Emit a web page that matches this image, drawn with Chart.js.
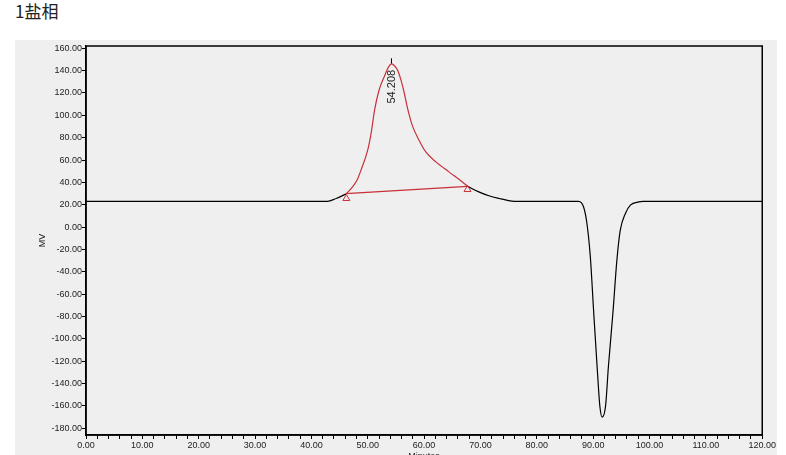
<html>
  <head>
    <title>1盐相</title>
    <meta charset="utf-8">
    <script src="https://cdn.jsdelivr.net/npm/chart.js"></script>
    <style>
      body { margin:0; background:#fff; }
      #title { position:absolute; left:15px; top:-2px; font-family:"Noto Sans CJK SC"; font-size:17px; color:#222; }
      #panel { position:absolute; left:15px; top:40px; width:762px; height:415px; background:#efefef; overflow:hidden; }
    </style>
  </head>
  <body>
    <div id="title">1盐相</div>
    <div id="panel">
      <canvas id="myChart" width="762" height="440"></canvas>
    </div>

  <script>

    // chromatogram trace (minutes, mV) - null breaks where the integrated peak covers it
    let blackX = [0, 42.8, 44.4, 46.1, null, 67.7, 69.7, 71.5, 73.3, 75.6, 76.5, 87.4, 88.3, 88.9, 89.5, 90.1, 90.7, 91.2, 91.6, 92.2, 92.7, 93.5, 94.2, 94.8, 95.7, 96.6, 98.1, 98.8, 120];
    let blackY = [23, 23, 25.6, 29.5, null, 36.5, 31.5, 28, 25.6, 23.2, 23, 23, 18, 3, -27, -77, -125, -161, -170, -160, -125, -77, -30, -3, 12, 19.6, 22.5, 23, 23];

    // integrated peak
    let peakX = [46.1, 47.3, 48.2, 48.8, 50.0, 50.6, 51.2, 52.0, 52.9, 53.7, 54.2, 54.6, 55.3, 55.9, 56.5, 57.0, 57.9, 59.1, 60.3, 62.1, 64.4, 66.8, 67.7];
    let peakY = [29.5, 36, 43, 51, 69, 84, 104.5, 122.4, 134.3, 143.3, 146, 145, 140.3, 131.4, 119.5, 107.5, 91, 77.7, 67.2, 58.3, 49.4, 40.4, 36.5];

    let baseX = [46.1, 67.7];
    let baseY = [30, 36.5];
    let markX = [46.2, 67.7];
    let markY = [25.6, 33.6];

    let apexX = [54.208, 54.208];
    let apexY = [146, 151];
    let apexLabel = "54.208";

    let yTicks = [160, 140, 120, 100, 80, 60, 40, 20, 0, -20, -40, -60, -80, -100, -120, -140, -160, -180];

    const red = '#c8303a';
    const font = { family: "'Liberation Sans', Arial", size: 9 };

    function pts(xs, ys) {
      return xs.map((x, i) => x === null ? { x: NaN, y: null } : { x: x, y: ys[i] });
    }

    const boxPlugin = {
      id: 'box',
      afterDatasetsDraw(chart) {
        const a = chart.chartArea, ctx = chart.ctx;
        ctx.save();
        ctx.strokeStyle = '#000';
        ctx.lineWidth = 1.5;
        ctx.strokeRect(a.left, a.top, a.right - a.left, a.bottom - a.top);
        // apex retention time label, reading upwards
        const x = chart.scales.x.getPixelForValue(apexX[0]);
        const y = chart.scales.y.getPixelForValue(apexY[0]);
        ctx.translate(x + 0.5, y + 6);
        ctx.rotate(-Math.PI / 2);
        ctx.fillStyle = '#222';
        ctx.font = "11px 'Liberation Sans', Arial";
        ctx.textAlign = 'right';
        ctx.textBaseline = 'middle';
        ctx.fillText(apexLabel, 0, 0);
        ctx.restore();
      }
    };

    const data = {
      datasets: [
        { data: pts(peakX, peakY), borderColor: red, borderWidth: 1.2, pointRadius: 0, cubicInterpolationMode: 'monotone' },
        { data: pts(baseX, baseY), borderColor: red, borderWidth: 1.2, pointRadius: 0 },
        { data: pts(markX, markY), showLine: false, pointStyle: 'triangle', pointRadius: 4, borderColor: red, borderWidth: 1, backgroundColor: 'rgba(0,0,0,0)' },
        { data: pts(apexX, apexY), borderColor: '#000', borderWidth: 1, pointRadius: 0 },
        { data: pts(blackX, blackY), borderColor: '#000', borderWidth: 1.2, pointRadius: 0, cubicInterpolationMode: 'monotone', spanGaps: false }
      ]
    };

    const config = {
      type: 'line',
      data: data,
      options: {
        responsive: false,
        animation: false,
        layout: { padding: { top: 6, right: 13, left: 0, bottom: 0 } },
        plugins: { legend: { display: false }, tooltip: { enabled: false } },
        scales: {
          x: {
            type: 'linear', min: 0, max: 120,
            ticks: {
              stepSize: 2, autoSkip: false, maxRotation: 0, padding: 1, color: '#222', font: font,
              callback: v => (v % 10 === 0 ? v.toFixed(2) : '')
            },
            grid: { drawOnChartArea: false, tickLength: 4, color: '#000', tickColor: '#000' },
            border: { color: '#000', width: 1.5 },
            title: { display: true, text: 'Minutes', color: '#222', font: font, padding: { top: 0, bottom: 18 } },
            afterFit: s => { s.height = 45; }
          },
          y: {
            min: -186, max: 162,
            afterBuildTicks: s => { s.ticks = yTicks.map(v => ({ value: v })); },
            ticks: { padding: 0, color: '#222', font: font, callback: v => v.toFixed(2) },
            grid: { drawOnChartArea: false, tickLength: 4, color: '#000', tickColor: '#000' },
            border: { color: '#000', width: 1.5 },
            title: { display: true, text: 'MV', color: '#222', font: font, padding: { top: 22, bottom: 0 } },
            afterFit: s => { s.width = 71; }
          }
        }
      },
      plugins: [boxPlugin]
    };

    window.myChart = new Chart(document.getElementById('myChart'), config);

  </script>
  </body>
</html>
